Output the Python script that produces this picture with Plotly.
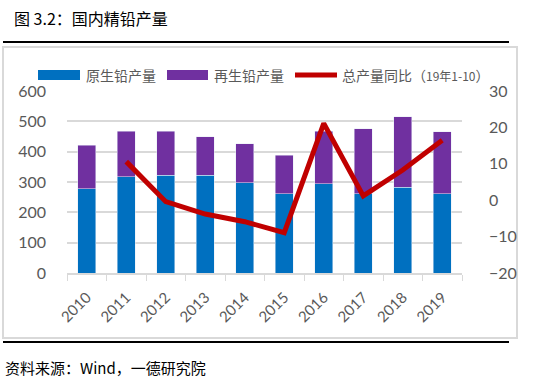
import plotly.graph_objects as go

years = ["2010", "2011", "2012", "2013", "2014", "2015", "2016", "2017", "2018", "2019"]
primary = [277, 317, 323, 323, 297, 262, 295, 262, 282, 262]
total = [421, 468, 468, 449, 426, 389, 468, 475, 515, 465]
secondary = [t - p for t, p in zip(total, primary)]
yoy_years = ["2011", "2012", "2013", "2014", "2015", "2016", "2017", "2018", "2019"]
yoy = [10.6, -0.4, -3.8, -5.9, -8.9, 21.1, 1.2, 8.3, 16.5]

W, H = 537, 380
L, R, T, B = 67, 462, 91, 273

def px(x):
    return (x - L) / (R - L)

def py(y):
    return (B - y) / (B - T)

BLUE = "#0070C0"
PURPLE = "#7030A0"
RED = "#C00000"
GRAY = "#595959"
GRID = "#D9D9D9"
TICKFONT = dict(family="Lato, Liberation Sans, sans-serif", size=16, color=GRAY)
CJK = "Noto Sans CJK SC"

fig = go.Figure()
fig.add_trace(go.Bar(x=years, y=primary, marker_color=BLUE, name="原生铅产量", showlegend=False))
fig.add_trace(go.Bar(x=years, y=secondary, marker_color=PURPLE, name="再生铅产量", showlegend=False))
fig.add_trace(go.Scatter(x=yoy_years, y=yoy, mode="lines", line=dict(color=RED, width=5),
                         name="总产量同比", yaxis="y2", showlegend=False))

shapes = [
    dict(type="rect", xref="paper", yref="paper", x0=px(3), x1=px(517), y0=py(338), y1=py(47),
         line=dict(color=GRID, width=2), fillcolor="rgba(0,0,0,0)", layer="below"),
    dict(type="line", xref="paper", yref="paper", x0=px(3), x1=px(509), y0=py(42), y1=py(42),
         line=dict(color="black", width=2)),
    dict(type="line", xref="paper", yref="paper", x0=px(3), x1=px(509), y0=py(342), y1=py(342),
         line=dict(color="black", width=2)),
    # legend symbols
    dict(type="rect", xref="paper", yref="paper", x0=px(38), x1=px(80), y0=py(80), y1=py(70),
         fillcolor=BLUE, line=dict(width=0)),
    dict(type="rect", xref="paper", yref="paper", x0=px(167), x1=px(208), y0=py(80), y1=py(70),
         fillcolor=PURPLE, line=dict(width=0)),
    dict(type="line", xref="paper", yref="paper", x0=px(295), x1=px(337), y0=py(75), y1=py(75),
         line=dict(color=RED, width=5)),
]

annotations = [
    dict(text="图 3.2：国内精铅产量", xref="paper", yref="paper", x=px(12), y=py(18),
         xanchor="left", yanchor="middle", showarrow=False,
         font=dict(family=CJK, size=16, color="black")),
    dict(text="资料来源：Wind，一德研究院", xref="paper", yref="paper", x=px(3), y=py(367),
         xanchor="left", yanchor="middle", showarrow=False,
         font=dict(family=CJK, size=15, color="black")),
    dict(text="原生铅产量", xref="paper", yref="paper", x=px(84), y=py(75),
         xanchor="left", yanchor="middle", showarrow=False,
         font=dict(family=CJK, size=14, color=GRAY)),
    dict(text="再生铅产量", xref="paper", yref="paper", x=px(212), y=py(75),
         xanchor="left", yanchor="middle", showarrow=False,
         font=dict(family=CJK, size=14, color=GRAY)),
    dict(text="总产量同比（<span style='font-size:12px'>19年1-10</span>）", xref="paper", yref="paper",
         x=px(340), y=py(75), xanchor="left", yanchor="middle", showarrow=False,
         font=dict(family=CJK, size=14, color=GRAY)),
]

fig.update_layout(
    width=W, height=H,
    margin=dict(l=L, r=W - R, t=T, b=H - B, pad=0),
    paper_bgcolor="white", plot_bgcolor="white",
    barmode="stack", bargap=0.54,
    shapes=shapes, annotations=annotations,
    xaxis=dict(type="category", tickangle=-45, tickfont=dict(family="Lato, Liberation Sans, sans-serif", size=15, color=GRAY),
               showline=True, linecolor=GRID, linewidth=1.5, ticks="outside", tickson="boundaries",
               ticklen=6, tickcolor=GRID, showgrid=False, automargin=False, ticklabelstandoff=8),
    yaxis=dict(range=[0, 600], dtick=100, tickfont=TICKFONT, showgrid=True, gridcolor=GRID,
               gridwidth=1.5, zeroline=False, ticks="", ticklabelstandoff=20, automargin=False),
    yaxis2=dict(range=[-20, 30], dtick=10, overlaying="y", side="right", tickfont=TICKFONT,
                showgrid=False, zeroline=False, ticks="", ticklabelstandoff=26, automargin=False),
)

fig.write_html("out.html", config={"displayModeBar": False},
               post_script="document.body.style.margin='0';document.body.style.overflow='hidden';")
